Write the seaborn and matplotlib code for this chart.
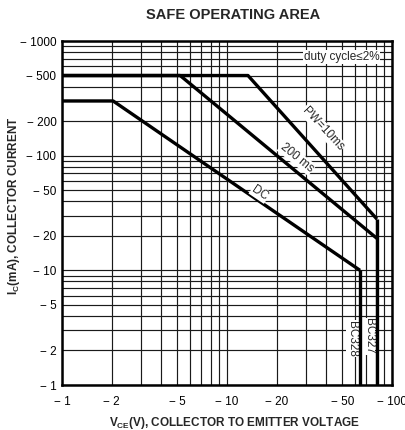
import matplotlib
matplotlib.use('Agg')
import matplotlib.pyplot as plt
import matplotlib.ticker as mticker
import seaborn as sns
import numpy as np

# SOA curves, magnitudes of V_CE (V) and I_C (mA); the axes show them as negatives
pw10_vce = [1, 13.4, 81]
pw10_ic = [500, 500, 28]
pw200_vce = [1, 5.2, 81]
pw200_ic = [500, 500, 19]
dc_vce = [1, 2.04, 64]
dc_ic = [300, 300, 10]
bc327_vce = [81, 81]
bc327_ic = [28, 1]
bc328_vce = [64, 64]
bc328_ic = [10, 1]

x_ticks = [1, 2, 5, 10, 20, 50, 100]
y_ticks = [1, 2, 5, 10, 20, 50, 100, 200, 500, 1000]

sns.set_style('white')
plt.rcParams['font.family'] = ['Liberation Sans', 'DejaVu Sans']
plt.rcParams['mathtext.fontset'] = 'custom'
plt.rcParams['mathtext.rm'] = 'Liberation Sans'
plt.rcParams['mathtext.bf'] = 'Liberation Sans:bold'

fig = plt.figure(figsize=(4.06, 4.30), dpi=100)
ax = fig.add_axes([62 / 406, 1 - 385 / 430, 330 / 406, 344 / 430])

ax.set_xscale('log')
ax.set_yscale('log')
ax.set_xlim(1, 100)
ax.set_ylim(1, 1000)

ax.grid(which='both', color='#1a1a1a', lw=0.85)
ax.set_axisbelow(True)

for xs, ys in [(pw10_vce, pw10_ic), (pw200_vce, pw200_ic), (dc_vce, dc_ic),
               (bc327_vce, bc327_ic), (bc328_vce, bc328_ic)]:
    sns.lineplot(x=xs, y=ys, sort=False, estimator=None, color='black', lw=2.4,
                 ax=ax, solid_capstyle='butt', zorder=3)

ax.xaxis.set_major_locator(mticker.FixedLocator(x_ticks))
ax.yaxis.set_major_locator(mticker.FixedLocator(y_ticks))
ax.xaxis.set_major_formatter(mticker.FuncFormatter(lambda v, p: '\u2212 %g' % v))
ax.yaxis.set_major_formatter(mticker.FuncFormatter(lambda v, p: '\u2212 %g' % v))
ax.xaxis.set_minor_formatter(mticker.NullFormatter())
ax.yaxis.set_minor_formatter(mticker.NullFormatter())
ax.tick_params(which='both', length=0, labelsize=8.5, colors='black')
ax.tick_params(axis='x', pad=8)
ax.tick_params(axis='y', pad=4)

for s in ax.spines.values():
    s.set_linewidth(1.8)
    s.set_color('black')

ax.set_xlabel(r'$\mathbf{V_{CE}}$(V), COLLECTOR TO EMITTER VOLTAGE',
              fontsize=8.5, fontweight='bold')
ax.xaxis.set_label_coords(0.524, -0.087)
ax.set_ylabel(r'$\mathbf{I_{C}}$(mA), COLLECTOR CURRENT',
              fontsize=8.5, fontweight='bold')
ax.yaxis.set_label_coords(-0.121, 0.52)

fig.text(233 / 406, 1 - 15 / 430, 'SAFE OPERATING AREA', ha='center', va='center',
         fontsize=10.5, fontweight='bold')

box = dict(facecolor='white', edgecolor='none', pad=0.6)
ax.text(0.848, 0.953, 'duty cycle\u22642%', transform=ax.transAxes, ha='center',
        va='center', fontsize=8.5, bbox=box, zorder=4)
ax.text(0.79, 0.745, 'PW=10ms', transform=ax.transAxes, ha='center', va='center',
        fontsize=8.5, rotation=-47, rotation_mode='anchor', bbox=box, zorder=4)
ax.text(0.711, 0.66, '200 ms', transform=ax.transAxes, ha='center', va='center',
        fontsize=8.5, rotation=-39, rotation_mode='anchor', bbox=box, zorder=4)
ax.text(0.6, 0.558, 'DC', transform=ax.transAxes, ha='center', va='center',
        fontsize=8.5, rotation=-34, rotation_mode='anchor', bbox=box, zorder=4)
# device labels sit under the limit lines so the thick verticals stay whole
ax.text(0.93, 0.142, 'BC327', transform=ax.transAxes, ha='center', va='center',
        fontsize=8.5, rotation=-90, bbox=dict(facecolor='white', edgecolor='none', pad=0.3),
        zorder=2.5)
ax.text(0.88, 0.134, 'BC328', transform=ax.transAxes, ha='center', va='center',
        fontsize=8.5, rotation=-90, bbox=dict(facecolor='white', edgecolor='none', pad=0.3),
        zorder=2.5)

fig.savefig('out.png', dpi=100)
